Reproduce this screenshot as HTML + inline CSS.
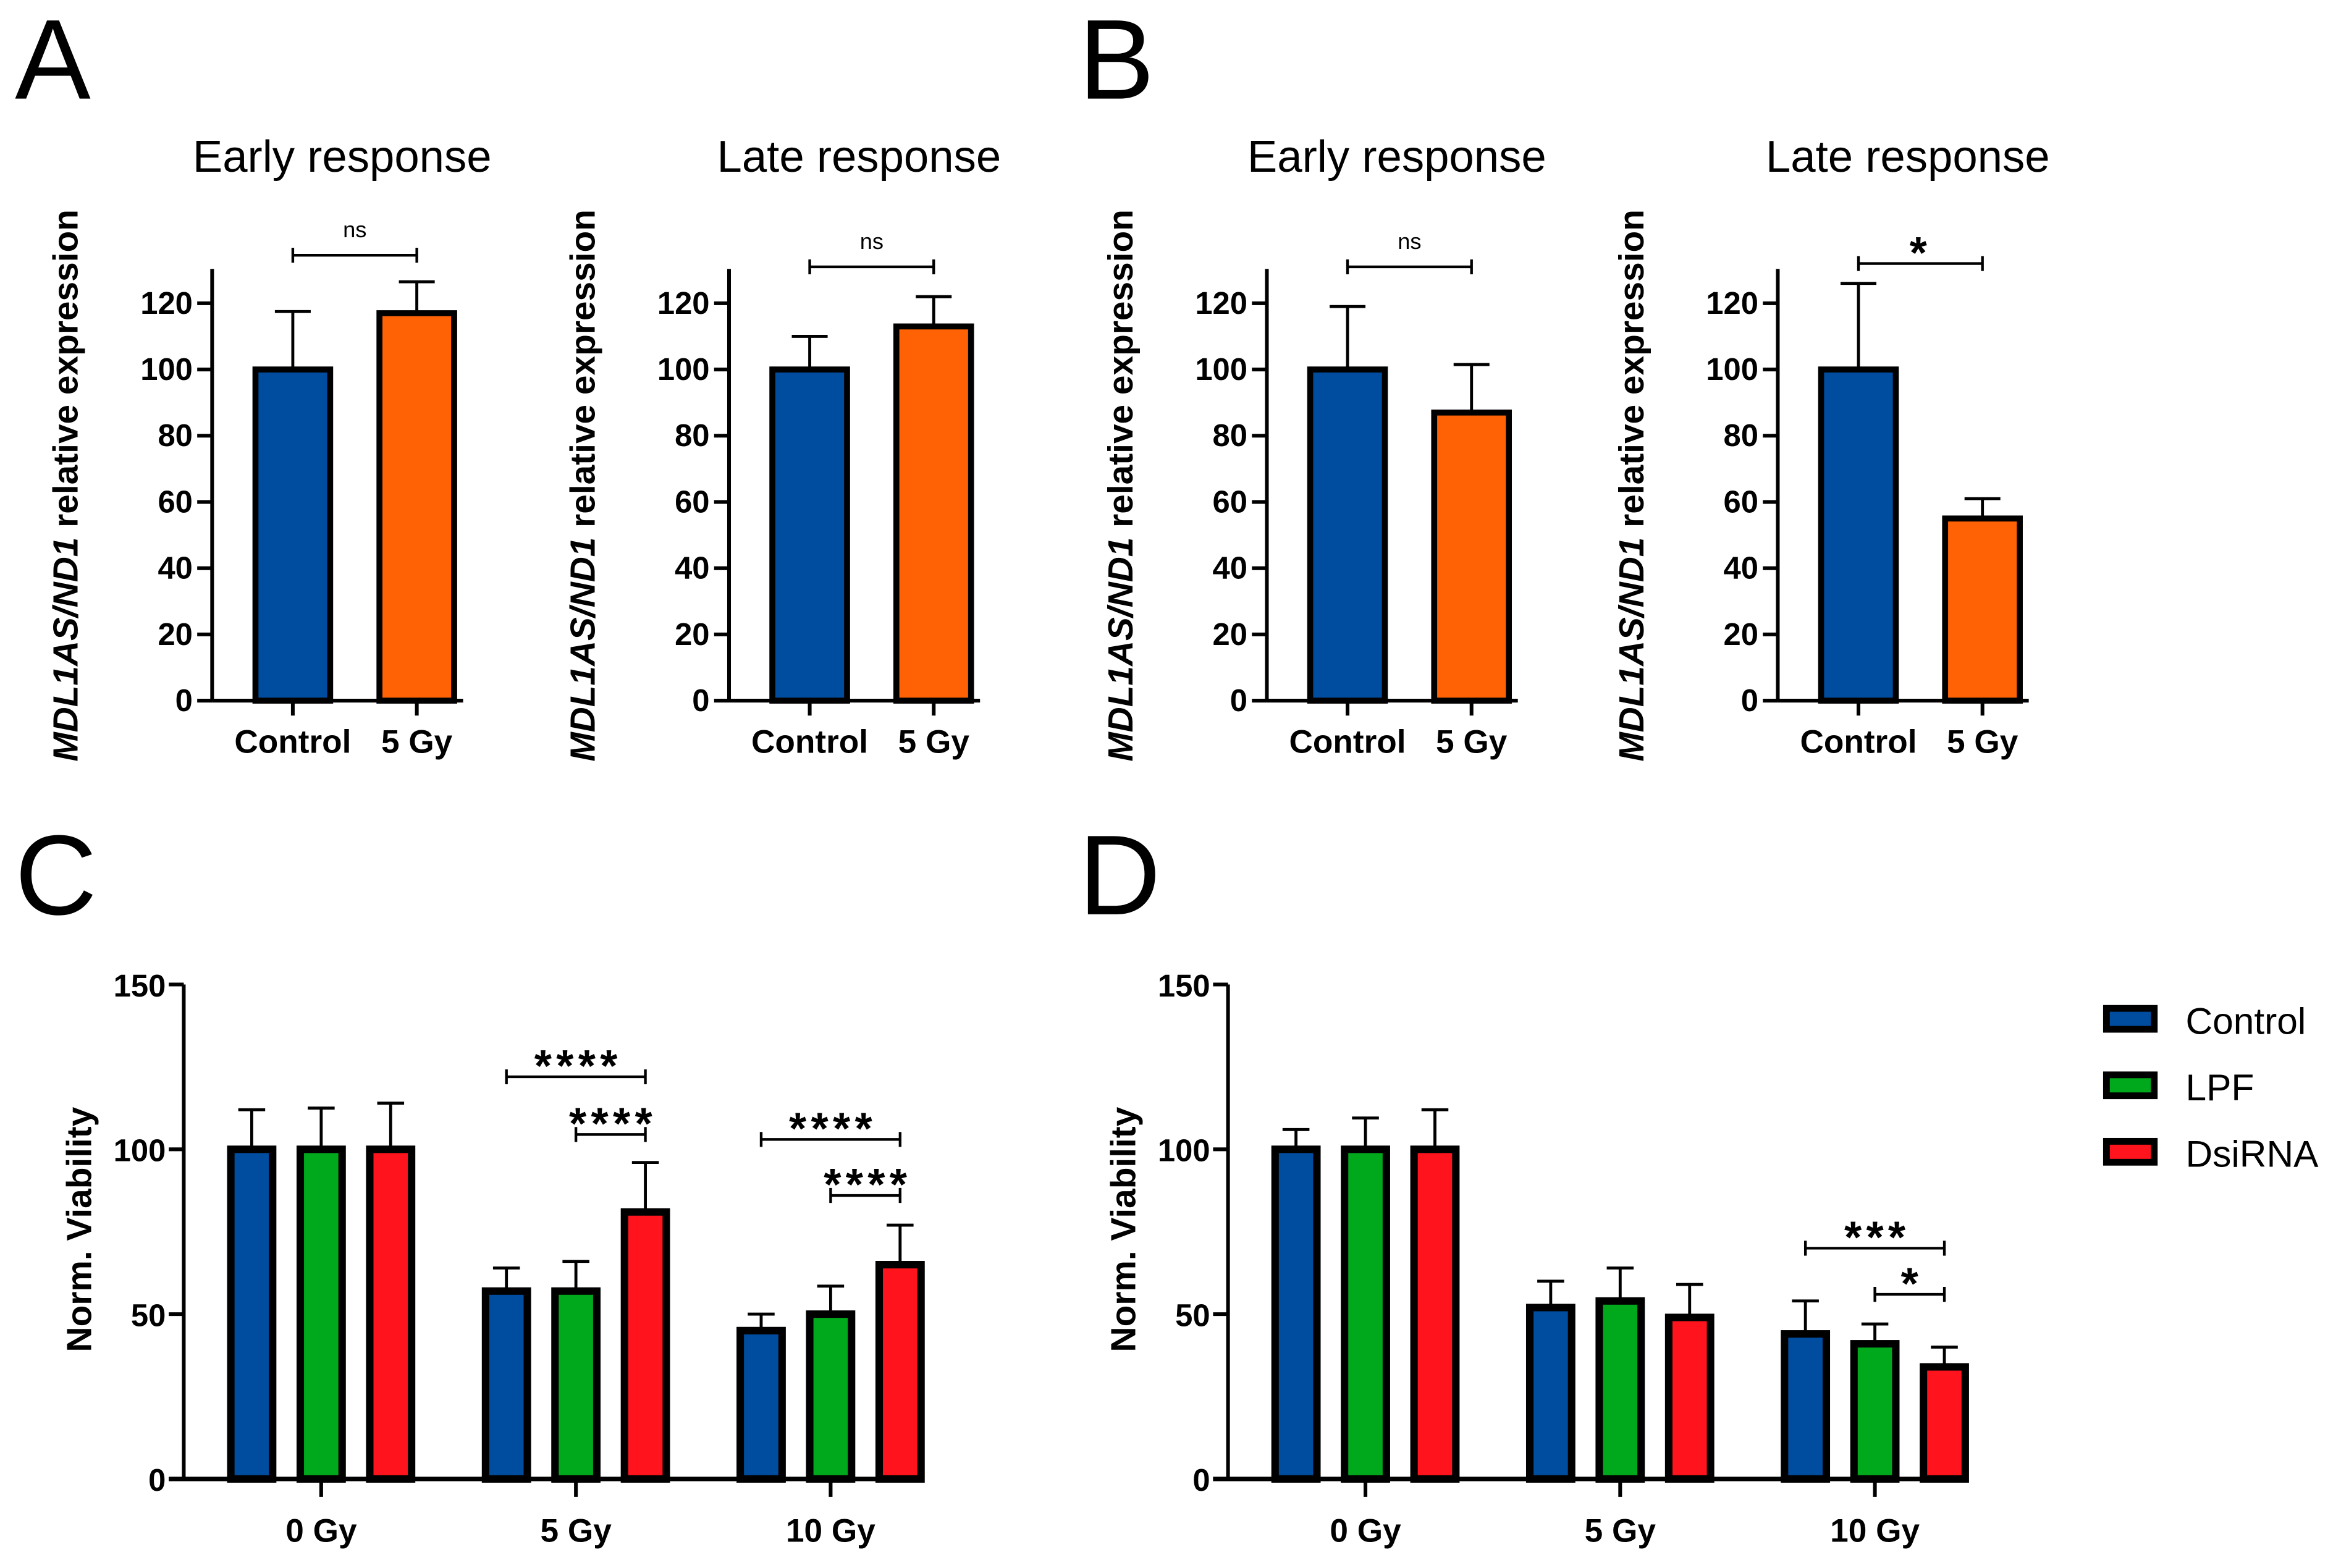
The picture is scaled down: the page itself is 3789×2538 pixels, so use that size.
<!DOCTYPE html>
<html><head><meta charset="utf-8">
<style>
html,body{margin:0;padding:0;background:#fff;}
svg{display:block;}
text{font-family:"Liberation Sans",sans-serif;fill:#000;}
.tick{font-family:"Liberation Sans Narrow","Liberation Sans",sans-serif;font-weight:bold;font-size:21px;}
.cat{font-family:"Liberation Sans Narrow","Liberation Sans",sans-serif;font-weight:bold;font-size:22px;}
.title{font-size:30px;}
.letter{font-size:76px;}
.ylab{font-weight:bold;font-size:23.5px;}
.sig{font-size:15px;}
.sig2{font-size:30px;letter-spacing:3px;font-weight:bold;}
</style></head>
<body>
<svg id="fig" width="3789" height="2538" viewBox="0 0 1567 1049.6" preserveAspectRatio="none" xmlns="http://www.w3.org/2000/svg">
<text class="letter" x="10" y="66">A</text>
<text class="letter" x="722" y="66">B</text>
<text class="letter" x="10" y="612">C</text>
<text class="letter" x="722" y="612">D</text>
</svg>
<script>
// ---- Panels A/B data ----
const smallCats = ["Control", "5 Gy"];
const smallTicks = [0, 20, 40, 60, 80, 100, 120];
const aEarlyMeans = [100, 117];
const aEarlyErr = [17.5, 9.5];
const aLateMeans = [100, 113];
const aLateErr = [10, 9];
const bEarlyMeans = [100, 87];
const bEarlyErr = [19, 14.5];
const bLateMeans = [100, 55];
const bLateErr = [26, 6];
const smallSigLabels = ["ns", "ns", "ns", "*"];
const smallSigLevels = [134.5, 131, 131, 132];
// ---- Panels C/D data ----
const doseCats = ["0 Gy", "5 Gy", "10 Gy"];
const seriesNames = ["Control", "LPF", "DsiRNA"];
const bigTicks = [0, 50, 100, 150];
const cControl = [100, 57, 45];
const cLPF = [100, 57, 50];
const cDsi = [100, 81, 65];
const cControlErr = [12, 7, 5];
const cLPFErr = [12.5, 9, 8.5];
const cDsiErr = [14, 15, 12];
const dControl = [100, 52, 44];
const dLPF = [100, 54, 41];
const dDsi = [100, 49, 34];
const dControlErr = [6, 8, 10];
const dLPFErr = [9.5, 10, 6];
const dDsiErr = [12, 10, 6];
const cSigLabels = ["****", "****", "****", "****"];
const cSigLevels = [122, 104.5, 103, 86];
const dSigLabels = ["***", "*"];
const dSigLevels = [70, 56];

const svg = document.getElementById('fig');
const NS = 'http://www.w3.org/2000/svg';
function mk(tag, attrs, parent) {
  const e = document.createElementNS(NS, tag);
  for (const k in attrs) e.setAttribute(k, attrs[k]);
  (parent || svg).appendChild(e);
  return e;
}
const colors = {blue: "#004c9e", orange: "#ff6205", green: "#00a81c", red: "#ff141d"};

function smallChart(ax, title, means, errs, sigLab, sigLev, key) {
  const y0 = 469, pxPer = 266 / 120;
  const Y = v => y0 - v * pxPer;
  const X = i => ax + 54 + i * 83;
  const g = mk('g', {});
  
  
  const t = mk('text', {x: ax + 87, y: 115, 'text-anchor': 'middle', class: 'title'}, g);
  t.textContent = title;
  
  
  const cols = [colors.blue, colors.orange];
  means.forEach((m, i) => {
    const cx = X(i);
    const eb = mk('line', {x1: cx, x2: cx, y1: Y(m), y2: Y(m + errs[i]), stroke: '#000', 'stroke-width': 2}, g);
    
    
    const cap = mk('line', {x1: cx - 12, x2: cx + 12, y1: Y(m + errs[i]), y2: Y(m + errs[i]), stroke: '#000', 'stroke-width': 2}, g);
    
    
    const r = mk('rect', {x: cx - 25, y: Y(m), width: 50, height: y0 - Y(m), fill: cols[i], stroke: '#000', 'stroke-width': 4}, g);
    
    
    const tk = mk('line', {x1: cx, x2: cx, y1: y0, y2: y0 + 10, stroke: '#000', 'stroke-width': 2.5}, g);
    
    
    const lt = mk('text', {x: cx, y: y0 + 35, 'text-anchor': 'middle', class: 'cat'}, g);
    lt.textContent = smallCats[i];
    
    
  });
  const yax = mk('line', {x1: ax, x2: ax, y1: 180, y2: y0, stroke: '#000', 'stroke-width': 2.5}, g);
  
  
  const xax = mk('line', {x1: ax, x2: ax + 168, y1: y0, y2: y0, stroke: '#000', 'stroke-width': 2.5}, g);
  
  
  smallTicks.forEach(v => {
    const l = mk('line', {x1: ax - 10, x2: ax, y1: Y(v), y2: Y(v), stroke: '#000', 'stroke-width': 2.5}, g);
    
    
    const tt = mk('text', {x: ax - 13, y: Y(v) + 7, 'text-anchor': 'end', class: 'tick'}, g);
    tt.textContent = v;
    
    
  });
  const yl = mk('text', {transform: `translate(${ax - 90},${y0 - 144}) rotate(-90)`, 'text-anchor': 'middle', class: 'ylab'}, g);
  yl.innerHTML = '<tspan font-style="italic">MDL1AS/ND1</tspan> relative expression';
  
  
  const by = Y(sigLev);
  const br = mk('path', {d: `M${X(0)},${by - 5}V${by + 5}M${X(0)},${by}H${X(1)}M${X(1)},${by - 5}V${by + 5}`, stroke: '#000', 'stroke-width': 1.8, fill: 'none'}, g);
  
  
  const st = mk('text', {x: (X(0) + X(1)) / 2, y: sigLab === '*' ? by + 3 : by - 12, 'text-anchor': 'middle', class: sigLab === '*' ? 'sig2' : 'sig'}, g);
  st.textContent = sigLab;
  
  
}
smallChart(142, "Early response", aEarlyMeans, aEarlyErr, smallSigLabels[0], smallSigLevels[0], 'a-early');
smallChart(488, "Late response", aLateMeans, aLateErr, smallSigLabels[1], smallSigLevels[1], 'a-late');
smallChart(848, "Early response", bEarlyMeans, bEarlyErr, smallSigLabels[2], smallSigLevels[2], 'b-early');
smallChart(1190, "Late response", bLateMeans, bLateErr, smallSigLabels[3], smallSigLevels[3], 'b-late');

function bigChart(ax, series, errs, sigLab, sigLev, sigPairs, key) {
  const y0 = 990, pxPer = 331 / 150;
  const Y = v => y0 - v * pxPer;
  const gc = i => ax + 92 + i * 170.5;
  const bx = (i, s) => gc(i) + (s - 1) * 46.5;
  const cols = [colors.blue, colors.green, colors.red];
  const g = mk('g', {});
  
  
  doseCats.forEach((c, i) => {
    series.forEach((ser, s) => {
      const cx = bx(i, s), m = ser[i], e = errs[s][i];
      const eb = mk('line', {x1: cx, x2: cx, y1: Y(m), y2: Y(m + e), stroke: '#000', 'stroke-width': 2}, g);
      
      
      const cap = mk('line', {x1: cx - 9, x2: cx + 9, y1: Y(m + e), y2: Y(m + e), stroke: '#000', 'stroke-width': 2}, g);
      
      
      const r = mk('rect', {x: cx - 14, y: Y(m), width: 28, height: y0 - Y(m), fill: cols[s], stroke: '#000', 'stroke-width': 5}, g);
      
      
    });
    const tk = mk('line', {x1: gc(i), x2: gc(i), y1: y0, y2: y0 + 12, stroke: '#000', 'stroke-width': 2.5}, g);
    
    
    const lt = mk('text', {x: gc(i), y: y0 + 42, 'text-anchor': 'middle', class: 'cat'}, g);
    lt.textContent = c;
    
    
  });
  const yax = mk('line', {x1: ax, x2: ax, y1: Y(150), y2: y0, stroke: '#000', 'stroke-width': 2.5}, g);
  
  
  const xax = mk('line', {x1: ax - 10, x2: gc(2) + 62, y1: y0, y2: y0, stroke: '#000', 'stroke-width': 3}, g);
  
  
  bigTicks.forEach(v => {
    const l = mk('line', {x1: ax - 10, x2: ax, y1: Y(v), y2: Y(v), stroke: '#000', 'stroke-width': 2.5}, g);
    
    
    const tt = mk('text', {x: ax - 12, y: Y(v) + 8, 'text-anchor': 'end', class: 'tick'}, g);
    tt.textContent = v;
    
    
  });
  const yl = mk('text', {transform: `translate(${ax - 62},${y0 - 167}) rotate(-90)`, 'text-anchor': 'middle', class: 'ylab'}, g);
  yl.textContent = 'Norm. Viability';
  yl.setAttribute('font-size', '35');
  
  
  sigLab.forEach((lab, k) => {
    const p = sigPairs[k];
    const x1 = bx(p[0], p[1]), x2 = bx(p[0], p[2]), by = Y(sigLev[k]);
    const br = mk('path', {d: `M${x1},${by - 5}V${by + 5}M${x1},${by}H${x2}M${x2},${by - 5}V${by + 5}`, stroke: '#000', 'stroke-width': 1.8, fill: 'none'}, g);
    
    
    const st = mk('text', {x: (x1 + x2) / 2 + 1.5, y: by + 3, 'text-anchor': 'middle', class: 'sig2'}, g);
    st.textContent = lab;
    
    
  });
}
bigChart(123, [cControl, cLPF, cDsi], [cControlErr, cLPFErr, cDsiErr], cSigLabels, cSigLevels, [[1, 0, 2], [1, 1, 2], [2, 0, 2], [2, 1, 2]], 'c');
bigChart(822, [dControl, dLPF, dDsi], [dControlErr, dLPFErr, dDsiErr], dSigLabels, dSigLevels, [[2, 0, 2], [2, 1, 2]], 'd');

// legend
const lg = mk('g', {});


const legCols = [colors.blue, colors.green, colors.red];
seriesNames.forEach((n, i) => {
  const y = 682 + i * 44.5;
  const r = mk('rect', {x: 1410, y: y - 7, width: 32, height: 14, fill: legCols[i], stroke: '#000', 'stroke-width': 4.5}, lg);
  
  
  const t = mk('text', {x: 1463, y: y + 10, 'font-size': 25}, lg);
  t.textContent = n;
  
  
});
</script>
</body></html>
